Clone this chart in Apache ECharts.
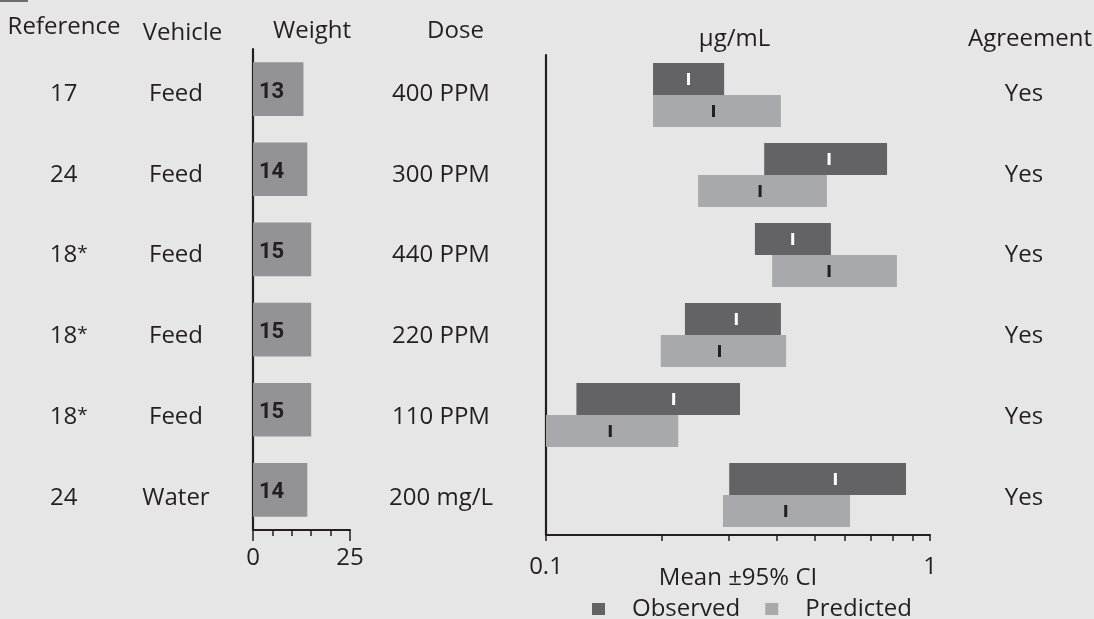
<!DOCTYPE html>
<html>
<head>
<meta charset="utf-8">
<script src="https://cdn.jsdelivr.net/npm/echarts@6/dist/echarts.min.js"></script>
<style>
html,body{margin:0;padding:0;background:#e6e6e6;}
#chart{width:1094px;height:619px;}
</style>
</head>
<body>
<div id="chart"></div>
<script>
// ---- data ----
const references = ['17', '24', '18*', '18*', '18*', '24'];
const vehicles = ['Feed', 'Feed', 'Feed', 'Feed', 'Feed', 'Water'];
const weights = [13, 14, 15, 15, 15, 14];
const doses = ['400 PPM', '300 PPM', '440 PPM', '220 PPM', '110 PPM', '200 mg/L'];
const agreement = ['Yes', 'Yes', 'Yes', 'Yes', 'Yes', 'Yes'];
const obsLow  = [0.190, 0.370, 0.350, 0.230, 0.120, 0.300];
const obsHigh = [0.291, 0.773, 0.552, 0.409, 0.320, 0.866];
const obsMean = [0.235, 0.546, 0.439, 0.313, 0.215, 0.567];
const predLow  = [0.190, 0.249, 0.388, 0.199, 0.100, 0.289];
const predHigh = [0.409, 0.539, 0.820, 0.422, 0.221, 0.619];
const predMean = [0.273, 0.361, 0.546, 0.283, 0.147, 0.421];
const weightTicks = [0, 25];
const concTicks = [0.1, 1];
const concMinorTicks = [0.1, 0.2, 0.3, 0.4, 0.5, 0.6, 0.7, 0.8, 0.9, 1];
const headers = ['Reference', 'Vehicle', 'Weight', 'Dose', 'μg/mL', 'Agreement'];

const INK = '#231f20';
const FONT = "'Open Sans', 'DejaVu Sans', sans-serif";
const OBS = '#636365';
const PRED = '#a8a9ac';
const rowIdx = references.map((_, i) => i);

function rangeRender(isObs) {
  return function (params, api) {
    const cat = api.value(0);
    const lo = api.coord([api.value(1), cat]);
    const hi = api.coord([api.value(2), cat]);
    const mn = api.coord([api.value(3), cat]);
    const band = api.size([1, 1], [1, cat])[1];
    const h = band * 0.4;
    const top = isObs ? lo[1] - h : lo[1];
    return {
      type: 'group',
      children: [
        { type: 'rect', shape: { x: lo[0], y: top, width: hi[0] - lo[0], height: h },
          style: { fill: isObs ? OBS : PRED } },
        { type: 'rect', shape: { x: mn[0] - 1.5, y: top + h / 2 - 6, width: 3, height: 12 },
          style: { fill: isObs ? '#ffffff' : INK } }
      ]
    };
  };
}

const textAxis = (data, position, offset, formatter) => ({
  type: 'category', gridIndex: 2, data: data, inverse: true, position: position, offset: offset,
  axisLine: { show: false }, axisTick: { show: false },
  axisLabel: { margin: 0, align: 'center', fontFamily: FONT, fontSize: 24, color: INK,
    formatter: formatter,
    rich: {
      p: { width: 10, fontFamily: FONT, fontSize: 24 },
      a: { fontFamily: FONT, fontSize: 19, color: INK, padding: [0, 0, 4, 0] }
    } }
});

const refFormatter = v => v.indexOf('*') >= 0 ? '{p|}' + v.replace('*', '') + '{a|*}' : v;

const chart = echarts.init(document.getElementById('chart'));
chart.setOption({
  backgroundColor: '#e6e6e6',
  animation: false,
  grid: [
    { left: 253, top: 49, width: 97, height: 481 },
    { left: 546, top: 55, width: 384, height: 480 },
    { left: 546, top: 53.6, width: 384, height: 484.8 }
  ],
  legend: {
    data: ['Observed', 'Predicted'],
    left: 592, top: 597, padding: 0, itemGap: 25,
    itemWidth: 13, itemHeight: 12, icon: 'rect',
    textStyle: { fontFamily: FONT, fontSize: 24, color: INK, padding: [0, 0, 0, 22] }
  },
  xAxis: [
    { type: 'value', gridIndex: 0, min: 0, max: 25, interval: 25,
      axisLine: { show: true, lineStyle: { color: INK, width: 2.2 } },
      axisTick: { show: true, length: 11, lineStyle: { color: INK, width: 1.5 } },
      minorTick: { show: true, splitNumber: 5, length: 6, lineStyle: { color: INK, width: 1.5 } },
      splitLine: { show: false },
      axisLabel: { customValues: weightTicks, margin: 16, fontFamily: FONT, fontSize: 24, color: INK } },
    { type: 'log', gridIndex: 1, logBase: 10, min: 0.1, max: 1,
      axisLine: { show: true, lineStyle: { color: INK, width: 2.2 } },
      axisTick: { show: true, customValues: concMinorTicks, length: 6, lineStyle: { color: INK, width: 1.5 } },
      splitLine: { show: false }, minorTick: { show: false },
      axisLabel: { customValues: concTicks, margin: 20, fontFamily: FONT, fontSize: 24, color: INK,
        formatter: v => String(v) },
      name: 'Mean ±95% CI', nameLocation: 'middle', nameGap: 31, nameMoveOverlap: false,
      nameTextStyle: { fontFamily: FONT, fontSize: 24, color: INK, verticalAlign: 'top' } },
    { type: 'value', gridIndex: 2, show: false }
  ],
  yAxis: [
    { type: 'category', gridIndex: 0, data: rowIdx, inverse: true,
      axisLine: { show: true, lineStyle: { color: INK, width: 2.2 } },
      axisTick: { show: false }, axisLabel: { show: false } },
    { type: 'category', gridIndex: 1, data: rowIdx, inverse: true,
      axisLine: { show: true, lineStyle: { color: INK, width: 2.2 } },
      axisTick: { show: false }, axisLabel: { show: false } },
    textAxis(references, 'left', 546 - 63.7, refFormatter),
    textAxis(vehicles, 'left', 546 - 176),
    textAxis(doses, 'left', 546 - 441),
    textAxis(agreement, 'right', 1024 - 930)
  ],
  series: [
    { type: 'bar', xAxisIndex: 0, yAxisIndex: 0, data: weights, barCategoryGap: '33%',
      itemStyle: { color: '#939396' },
      label: { show: true, position: 'insideLeft', distance: 6, offset: [0, 3],
        fontFamily: "Roboto, 'Liberation Sans', sans-serif",
        fontWeight: 'bold', fontSize: 22, color: INK } },
    { name: 'Observed', type: 'custom', xAxisIndex: 1, yAxisIndex: 1,
      itemStyle: { color: OBS }, renderItem: rangeRender(true),
      encode: { x: [1, 2, 3], y: 0 },
      data: rowIdx.map(i => [i, obsLow[i], obsHigh[i], obsMean[i]]) },
    { name: 'Predicted', type: 'custom', xAxisIndex: 1, yAxisIndex: 1,
      itemStyle: { color: PRED }, renderItem: rangeRender(false),
      encode: { x: [1, 2, 3], y: 0 },
      data: rowIdx.map(i => [i, predLow[i], predHigh[i], predMean[i]]) }
  ],
  graphic: [
    { type: 'rect', left: 0, top: 0, shape: { width: 28, height: 2 }, style: { fill: '#6d6d6d' } },
    { type: 'text', x: 64, y: 27, style: { text: headers[0], align: 'center', verticalAlign: 'middle', font: "24px 'Open Sans'", fill: INK } },
    { type: 'text', x: 182.5, y: 33, style: { text: headers[1], align: 'center', verticalAlign: 'middle', font: "24px 'Open Sans'", fill: INK } },
    { type: 'text', x: 312, y: 31, style: { text: headers[2], align: 'center', verticalAlign: 'middle', font: "24px 'Open Sans'", fill: INK } },
    { type: 'text', x: 455.5, y: 31, style: { text: headers[3], align: 'center', verticalAlign: 'middle', font: "24px 'Open Sans'", fill: INK } },
    { type: 'text', x: 734.5, y: 39, style: { text: headers[4], align: 'center', verticalAlign: 'middle', font: "24px 'Open Sans'", fill: INK } },
    { type: 'text', x: 1030, y: 39, style: { text: headers[5], align: 'center', verticalAlign: 'middle', font: "24px 'Open Sans'", fill: INK } }
  ]
});
</script>
</body>
</html>
